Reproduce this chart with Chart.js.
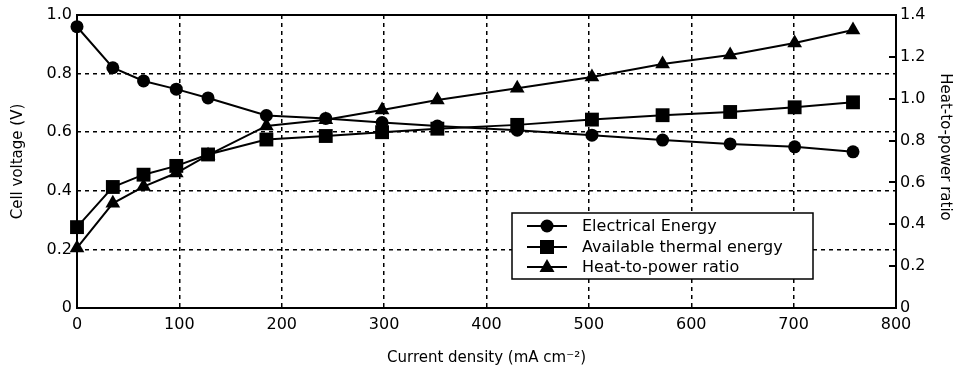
<!DOCTYPE html>
<html>
<head>
<meta charset="utf-8">
<script src="https://cdn.jsdelivr.net/npm/chart.js@4/dist/chart.umd.min.js"></script>
<style>
  html, body { margin: 0; padding: 0; background: #fff; }
  #wrap { width: 967px; height: 367px; }
</style>
</head>
<body>
<div id="wrap"><canvas id="fig"></canvas></div>
<script>
// current density (mA cm-2)
const currentDensity = [0, 35, 65, 97, 128, 185, 243, 298, 352, 430, 503, 572, 638, 701, 758];
// cell voltage (V)
const electrical = [0.96, 0.82, 0.775, 0.747, 0.717, 0.657, 0.647, 0.633, 0.621, 0.607, 0.590, 0.573, 0.560, 0.550, 0.533];
const thermal = [0.276, 0.413, 0.455, 0.485, 0.524, 0.575, 0.587, 0.600, 0.612, 0.625, 0.643, 0.658, 0.669, 0.685, 0.702];
// heat-to-power ratio (right axis)
const ratio = [0.287, 0.50, 0.58, 0.645, 0.73, 0.87, 0.90, 0.946, 0.994, 1.05, 1.104, 1.166, 1.209, 1.266, 1.328];

const seriesNames = ['Electrical Energy', 'Available thermal energy', 'Heat-to-power ratio'];
const xTicks = [0, 100, 200, 300, 400, 500, 600, 700, 800];
const yTicks = [0, 0.2, 0.4, 0.6, 0.8, 1.0];
const y1Ticks = [0, 0.2, 0.4, 0.6, 0.8, 1.0, 1.2, 1.4];
const y1Title = 'Heat-to-power ratio';

const FONT = 'DejaVu Sans, Verdana, sans-serif';

function pts(ys) {
  return currentDensity.map((x, i) => ({ x: x, y: ys[i] }));
}

function gridColor(lo, hi) {
  return c => (c.tick.value === lo || c.tick.value === hi) ? 'rgba(0,0,0,0)' : '#000';
}

function marker(ctx, style, x, y) {
  ctx.beginPath();
  if (style === 'circle') {
    ctx.arc(x, y, 6.5, 0, Math.PI * 2);
  } else if (style === 'rect') {
    ctx.rect(x - 7, y - 7, 14, 14);
  } else {
    ctx.moveTo(x, y - 8);
    ctx.lineTo(x + 7.5, y + 5);
    ctx.lineTo(x - 7.5, y + 5);
    ctx.closePath();
  }
  ctx.fill();
}

// frame, inward ticks of the right axis, right title and the boxed legend
const extras = {
  id: 'extras',
  afterDraw(chart) {
    const ctx = chart.ctx;
    const a = chart.chartArea;
    const y1 = chart.scales.y1;
    ctx.save();
    ctx.strokeStyle = '#000';
    ctx.lineWidth = 2;
    ctx.strokeRect(a.left, a.top, a.right - a.left, a.bottom - a.top);

    y1Ticks.forEach(v => {
      if (v === 0 || v === 1.4) return;
      const py = Math.round(y1.getPixelForValue(v));
      ctx.beginPath();
      ctx.moveTo(a.right - 7, py);
      ctx.lineTo(a.right, py);
      ctx.stroke();
    });

    // right axis title, reads top to bottom
    ctx.save();
    ctx.translate(945, 147);
    ctx.rotate(Math.PI / 2);
    ctx.fillStyle = '#000';
    ctx.font = '15px ' + FONT;
    ctx.textAlign = 'center';
    ctx.textBaseline = 'middle';
    ctx.fillText(y1Title, 0, 0);
    ctx.restore();

    // legend
    const bx = 512, by = 213, bw = 301, bh = 66;
    ctx.fillStyle = '#fff';
    ctx.fillRect(bx, by, bw, bh);
    ctx.lineWidth = 1.5;
    ctx.strokeRect(bx, by, bw, bh);
    const rows = [226, 247, 267];
    const styles = ['circle', 'rect', 'triangle'];
    ctx.fillStyle = '#000';
    ctx.font = '16px ' + FONT;
    ctx.textBaseline = 'middle';
    chart.data.datasets.forEach((ds, i) => {
      const ry = rows[i];
      ctx.lineWidth = 2;
      ctx.beginPath();
      ctx.moveTo(527, ry);
      ctx.lineTo(567, ry);
      ctx.stroke();
      marker(ctx, styles[i], 547, ry);
      ctx.fillText(ds.label, 582, ry + 1);
    });
    ctx.restore();
  }
};

new Chart(document.getElementById('fig'), {
  type: 'line',
  data: {
    datasets: [
      {
        label: seriesNames[0],
        data: pts(electrical),
        yAxisID: 'y',
        pointStyle: 'circle',
        pointRadius: 6.5
      },
      {
        label: seriesNames[1],
        data: pts(thermal),
        yAxisID: 'y',
        pointStyle: 'rect',
        pointRadius: 9.8
      },
      {
        label: seriesNames[2],
        data: pts(ratio),
        yAxisID: 'y1',
        pointStyle: 'triangle',
        pointRadius: 8.5
      }
    ].map(d => Object.assign(d, {
      borderColor: '#000',
      backgroundColor: '#000',
      pointBackgroundColor: '#000',
      pointBorderColor: '#000',
      pointBorderWidth: 0,
      borderWidth: 2,
      tension: 0,
      clip: false
    }))
  },
  options: {
    responsive: true,
    maintainAspectRatio: false,
    animation: false,
    events: [],
    layout: { padding: { top: 15, left: 0, right: 0, bottom: 0 } },
    plugins: { legend: { display: false }, tooltip: { enabled: false } },
    scales: {
      x: {
        type: 'linear',
        min: 0,
        max: 800,
        afterBuildTicks: s => { s.ticks = xTicks.map(v => ({ value: v })); },
        afterFit: s => { s.height = 59; },
        ticks: { color: '#000', font: { family: FONT, size: 16 }, padding: 7 },
        grid: { color: gridColor(0, 800), lineWidth: 1.5, drawTicks: false },
        border: { display: false, dash: [4, 4] },
        title: {
          display: true,
          text: 'Current density (mA cm⁻²)',
          color: '#000',
          font: { family: FONT, size: 15 },
          padding: { top: 4, bottom: 0 }
        }
      },
      y: {
        position: 'left',
        min: 0,
        max: 1,
        afterBuildTicks: s => { s.ticks = yTicks.map(v => ({ value: v })); },
        afterFit: s => { s.width = 77; },
        ticks: {
          color: '#000',
          font: { family: FONT, size: 16 },
          padding: 5,
          callback: v => v === 0 ? '0' : v.toFixed(1)
        },
        grid: { color: gridColor(0, 1), lineWidth: 1.5, drawTicks: false },
        border: { display: false, dash: [4, 4] },
        title: {
          display: true,
          text: 'Cell voltage (V)',
          color: '#000',
          font: { family: FONT, size: 15 },
          padding: { top: 9, bottom: 4 }
        }
      },
      y1: {
        position: 'right',
        min: 0,
        max: 1.4,
        afterBuildTicks: s => { s.ticks = y1Ticks.map(v => ({ value: v })); },
        afterFit: s => { s.width = 71; },
        ticks: {
          color: '#000',
          font: { family: FONT, size: 16 },
          padding: 4,
          callback: v => v === 0 ? '0' : v.toFixed(1)
        },
        grid: { drawOnChartArea: false, drawTicks: false },
        border: { display: false },
        title: { display: false }
      }
    }
  },
  plugins: [extras]
});
</script>
</body>
</html>
